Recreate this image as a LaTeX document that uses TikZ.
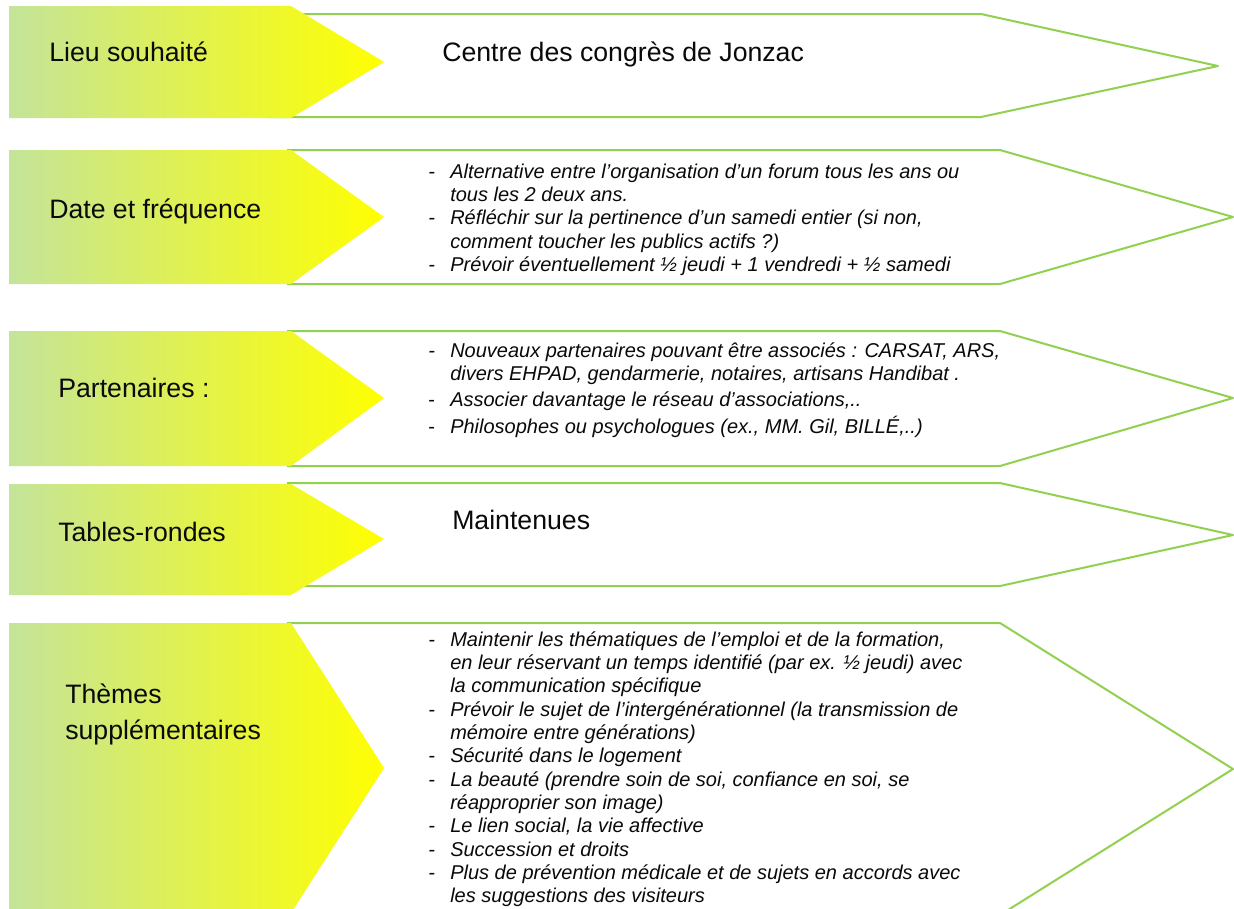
\documentclass[tikz,border=0pt]{standalone}
\usepackage{fontspec}
\setmainfont{Liberation Sans}
\definecolor{lgreen}{RGB}{196,228,154}
\definecolor{olgreen}{RGB}{146,208,80}
\definecolor{txt}{RGB}{10,10,10}
\newcommand{\itm}[1][-]{\par\noindent\hangindent=16.5pt\hangafter=1\makebox[16.5pt][l]{#1}}
\tikzset{
  outl/.style={draw=olgreen, line width=1.5pt, line join=round},
  lab/.style={font=\fontsize{20}{27}\selectfont, text=txt, inner sep=0pt, anchor=base west, align=left},
  body/.style={font=\fontsize{15}{17.6}\selectfont\itshape, text=txt, inner sep=0pt, anchor=base west},
}
\begin{document}
\begin{tikzpicture}[x=0.75pt, y=-0.75pt]
\useasboundingbox (0,0) rectangle (1234,908);
\fill[white] (0,0) rectangle (1234,908);
\clip (0,0) rectangle (1234,908);

% outlined arrows (behind)
\draw[outl] (267,14) -- (981,14) -- (1218,66) -- (981,117) -- (267,117);
\draw[outl] (287,150) -- (1000,150) -- (1233,217) -- (1000,284) -- (287,284);
\draw[outl] (287,331) -- (1000,331) -- (1233,398) -- (1000,466) -- (287,466);
\draw[outl] (287,483) -- (1000,483) -- (1233,535) -- (1000,586) -- (287,586);
\draw[outl] (287,623) -- (1000,623) -- (1233,769) -- (1000,915) -- (287,915);

% gradient label arrows
\shade[left color=lgreen, right color=yellow] (9,6) -- (291,6) -- (384,62) -- (291,118) -- (9,118) -- cycle;
\shade[left color=lgreen, right color=yellow] (9,150) -- (291,150) -- (384,217) -- (291,284) -- (9,284) -- cycle;
\shade[left color=lgreen, right color=yellow] (9,331) -- (291,331) -- (384,398) -- (291,466) -- (9,466) -- cycle;
\shade[left color=lgreen, right color=yellow] (9,484) -- (291,484) -- (384,539) -- (291,595) -- (9,595) -- cycle;
\shade[left color=lgreen, right color=yellow] (9,623) -- (291,623) -- (384,768) -- (291,913) -- (9,913) -- cycle;

% labels
\node[lab] (l1) at (49,61) {Lieu souhaité};
\node[lab] (l2) at (49,218) {Date et fréquence};
\node[lab] (l3) at (58,397) {Partenaires :};
\node[lab] (l4) at (58,541) {Tables-rondes};
\node[lab] (l5) at (65,739) {Thèmes\\supplémentaires};

% contents
\node[lab] (c1) at (442,61) {Centre des congrès de Jonzac};
\node[lab] (c4) at (452,529) {Maintenues};

\node[body] (c2) at (428,178) {\parbox[t]{560pt}{%
\itm Alternative entre l’organisation d’un forum tous les ans ou\\tous les 2 deux ans.
\itm Réfléchir sur la pertinence d’un samedi entier (si non,\\comment toucher les publics actifs ?)
\itm Prévoir éventuellement ½ jeudi + 1 vendredi + ½ samedi}};

\node[body, font=\fontsize{15}{17.25}\selectfont\itshape] (c3) at (428,357) {\parbox[t]{560pt}{%
\itm Nouveaux partenaires pouvant être associés : CARSAT, ARS,\\divers EHPAD, gendarmerie, notaires, artisans Handibat .
\par\vspace{2.3pt}
\itm[\upshape -]Associer davantage le réseau d’associations,..
\par\vspace{3pt}
\itm[\upshape -]Philosophes ou psychologues (ex., MM. Gil, BILLÉ,..)}};

\node[body, font=\fontsize{15}{17.5}\selectfont\itshape] (c5) at (428,646) {\parbox[t]{560pt}{%
\itm Maintenir les thématiques de l’emploi et de la formation,\\en leur réservant un temps identifié (par ex. ½ jeudi) avec\\la communication spécifique
\itm Prévoir le sujet de l’intergénérationnel (la transmission de\\mémoire entre générations)
\itm Sécurité dans le logement
\itm La beauté (prendre soin de soi, confiance en soi, se\\réapproprier son image)
\itm Le lien social, la vie affective
\itm Succession et droits
\itm Plus de prévention médicale et de sujets en accords avec\\les suggestions des visiteurs}};
\end{tikzpicture}
\end{document}
